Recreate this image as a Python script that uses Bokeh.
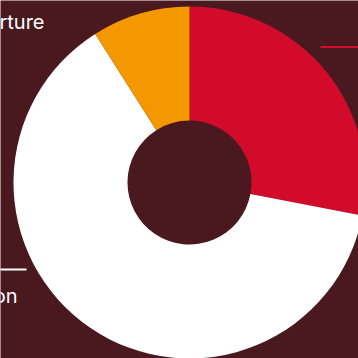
import numpy as np
from bokeh.plotting import figure
from bokeh.models import Range1d, ColumnDataSource
from bokeh.core.properties import value
from bokeh.embed import file_html
from bokeh.resources import INLINE

# ---- data ----
categories = ["Arrival", "Accommodation", "Departure"]
shares = [28, 63, 9]
colors = ["#D30B2B", "#FFFFFF", "#F39800"]

BG = "#4A1920"
W = H = 358
cx, cy = 189, H - 182
r_in, r_out = 62, 176

vals = np.array(shares, dtype=float)
frac = vals / vals.sum()
cum = np.concatenate([[0], np.cumsum(frac)]) * 2 * np.pi
start = np.pi / 2 - cum[:-1]
end = np.pi / 2 - cum[1:]

p = figure(width=W, height=H, x_range=Range1d(0, W), y_range=Range1d(0, H),
           output_backend="svg", toolbar_location=None, min_border=0,
           background_fill_color=BG, border_fill_color=BG, outline_line_color=None)
p.axis.visible = False
p.grid.visible = False

src = ColumnDataSource(dict(x=[cx] * 3, y=[cy] * 3, start=start, end=end, color=colors, cat=categories))
p.annular_wedge(x="x", y="y", inner_radius=r_in, outer_radius=r_out, start_angle="start",
                end_angle="end", direction="clock", fill_color="color", line_color=None, source=src)

# leader lines and labels (layout)
p.line([320, 370], [H - 46.5, H - 46.5], line_color=colors[0], line_width=2)
p.line([-40, 26], [H - 269, H - 269], line_color="#FFFFFF", line_width=2)

lab = ColumnDataSource(dict(x=[44, 17, 420], y=[H - 21, H - 295, H - 60],
                            t=[categories[2], categories[1], categories[0]]))
p.text(x="x", y="y", text="t", source=lab, text_color="#FFFFFF", text_font=value("Inter"),
       text_font_size="20px", text_align="right", text_baseline="alphabetic")

open("out.html", "w").write(file_html(p, INLINE))
